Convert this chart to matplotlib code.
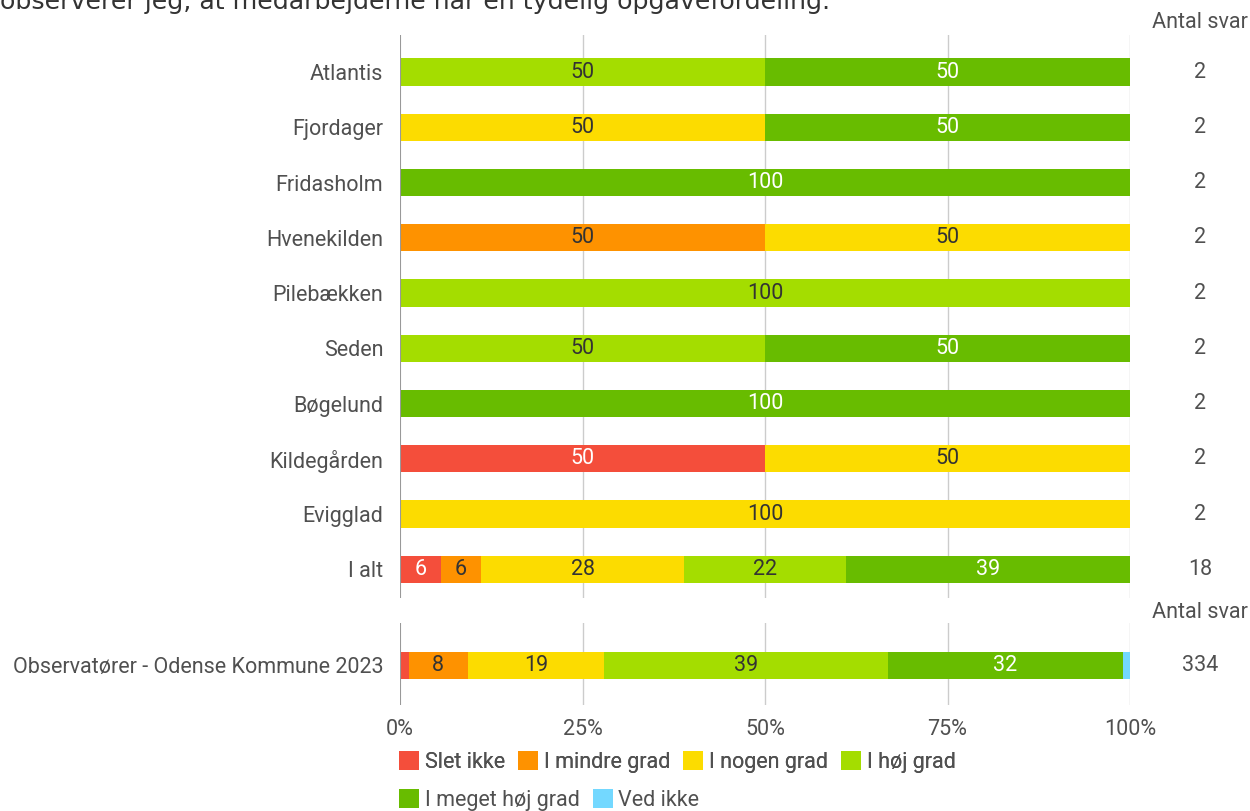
import matplotlib.pyplot as plt
from matplotlib.patches import Patch

plt.rcParams['font.family'] = ['Roboto', 'DejaVu Sans']

# # data
categories = ["Atlantis", "Fjordager", "Fridasholm", "Hvenekilden", "Pilebækken",
              "Seden", "Bøgelund", "Kildegården", "Evigglad", "I alt"]
answers = ["Slet ikke", "I mindre grad", "I nogen grad", "I høj grad",
           "I meget høj grad", "Ved ikke"]
slet_ikke = [0, 0, 0, 0, 0, 0, 0, 50, 0, 5.56]
i_mindre_grad = [0, 0, 0, 50, 0, 0, 0, 0, 0, 5.56]
i_nogen_grad = [0, 50, 0, 50, 0, 0, 0, 50, 100, 27.78]
i_hoej_grad = [50, 0, 0, 0, 100, 50, 0, 0, 0, 22.22]
i_meget_hoej_grad = [50, 50, 100, 0, 0, 50, 100, 0, 0, 38.89]
ved_ikke = [0, 0, 0, 0, 0, 0, 0, 0, 0, 0]
antal_svar = [2, 2, 2, 2, 2, 2, 2, 2, 2, 18]

bench_label = "Observatører - Odense Kommune 2023"
bench_values = [1.2, 8.1, 18.6, 38.9, 32.3, 0.9]
bench_antal = 334

title = "observerer jeg, at medarbejderne har en tydelig opgavefordeling."

colors = ["#F44E3B", "#FE9200", "#FCDC00", "#A4DD00", "#68BC00", "#73D8FF"]
text_colors = ["white", "#333333", "#333333", "#333333", "white", "#333333"]
label_gray = "#505050"
FS = 15.5

W, H = 1250, 811
fig = plt.figure(figsize=(W / 100, H / 100), dpi=100)

def ax_rect(x0, y0, x1, y1):
    return [x0 / W, 1 - y1 / H, (x1 - x0) / W, (y1 - y0) / H]

def draw_rows(ax, rows, names, counts):
    ax.set_xlim(0, 100)
    ys = list(range(len(names)))
    left = [0] * len(names)
    for k in range(len(answers)):
        vals = [r[k] for r in rows]
        ax.barh(ys, vals, left=left, height=0.49, color=colors[k], zorder=3)
        for y, v, l in zip(ys, vals, left):
            if v >= 3:
                ax.text(l + v / 2, y, f"{v:.0f}", ha="center", va="center",
                        fontsize=FS, color=text_colors[k], zorder=4)
        left = [a + b for a, b in zip(left, vals)]
    ax.set_yticks(ys)
    ax.set_yticklabels(names, fontsize=FS, color=label_gray)
    ax.tick_params(axis="y", length=0, pad=12)
    for x in [25, 50, 75, 100]:
        ax.axvline(x, color="#cccccc", lw=1, zorder=1)
    ax.axvline(0, color="#999999", lw=1.5, zorder=5)
    for s in ax.spines.values():
        s.set_visible(False)
    for y, c in zip(ys, counts):
        ax.text(1.0958, y, str(c), transform=ax.get_yaxis_transform(),
                ha="center", va="center", fontsize=FS, color=label_gray)

# top panel
ax1 = fig.add_axes(ax_rect(400, 35, 1130, 598))
rows = list(zip(slet_ikke, i_mindre_grad, i_nogen_grad, i_hoej_grad,
                i_meget_hoej_grad, ved_ikke))
draw_rows(ax1, rows, categories, antal_svar)
ax1.set_ylim(9.52, -0.67)
ax1.set_xticks([])

# bottom panel
ax2 = fig.add_axes(ax_rect(400, 623, 1130, 705))
draw_rows(ax2, [bench_values], [bench_label], [bench_antal])
ax2.set_ylim(0.72, -0.76)
ax2.set_xticks([0, 25, 50, 75, 100])
ax2.set_xticklabels(["0%", "25%", "50%", "75%", "100%"], fontsize=FS, color=label_gray)
ax2.tick_params(axis="x", length=0, pad=10)

fig.text(1200 / W, 1 - 22 / H, "Antal svar", ha="center", va="center",
         fontsize=FS, color=label_gray)
fig.text(1200 / W, 1 - 612 / H, "Antal svar", ha="center", va="center",
         fontsize=FS, color=label_gray)

fig.text(0, 1 - 9 / H, title, ha="left", va="baseline", fontsize=18.2,
         color="#333333", family="DejaVu Sans")

# legend in two rows
handles = [Patch(facecolor=c, edgecolor="none") for c in colors]
leg_kw = dict(frameon=False, fontsize=FS, handlelength=0.95, handleheight=0.95,
              handletextpad=0.25, columnspacing=0.6, borderpad=0, borderaxespad=0,
              labelcolor=label_gray)
l1 = fig.legend(handles[:4], answers[:4], ncol=4, loc="center left",
                bbox_to_anchor=(399 / W, 1 - 762 / H), **leg_kw)
fig.add_artist(l1)
fig.legend(handles[4:], answers[4:], ncol=2, loc="center left",
           bbox_to_anchor=(399 / W, 1 - 800 / H), **leg_kw)

fig.savefig("out.png", dpi=100)
